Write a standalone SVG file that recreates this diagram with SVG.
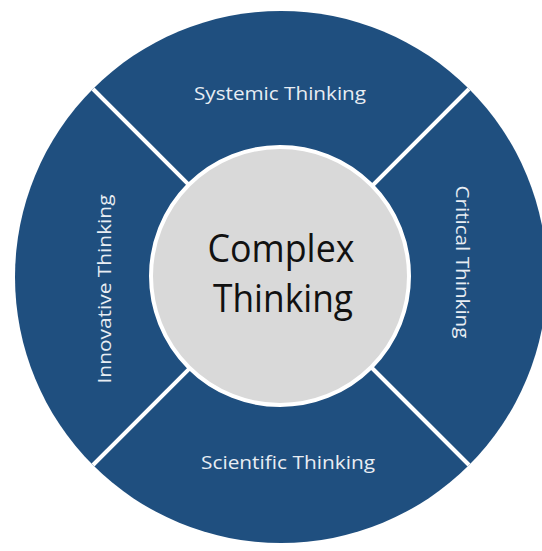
<svg xmlns="http://www.w3.org/2000/svg" width="542" height="551" viewBox="0 0 542 551">
<style>
.seg{font-family:"Open Sans","Liberation Sans",sans-serif;font-size:18.5px;fill:#e8edf3;text-anchor:middle}
.core{font-family:"Open Sans","Liberation Sans",sans-serif;font-size:39px;fill:#111;text-anchor:middle}
.sep{stroke:#ffffff;stroke-width:4}
</style>
<rect width="542" height="551" fill="#ffffff"/>
<g id="ring">
<circle cx="281" cy="277" r="266" fill="#1f4f7f"/>
</g>
<g id="connectors">
<line class="sep" x1="281" y1="277" x2="93" y2="89"/>
<line class="sep" x1="281" y1="277" x2="469" y2="89"/>
<line class="sep" x1="281" y1="277" x2="93" y2="465"/>
<line class="sep" x1="281" y1="277" x2="469" y2="465"/>
</g>
<g id="systemic"><text class="seg" x="280" y="100" textLength="172" lengthAdjust="spacingAndGlyphs">Systemic Thinking</text></g>
<g id="scientific"><text class="seg" x="288" y="469" textLength="174" lengthAdjust="spacingAndGlyphs">Scientific Thinking</text></g>
<g id="critical"><text class="seg" transform="translate(456,262) rotate(90)" x="0" y="0" textLength="153" lengthAdjust="spacingAndGlyphs">Critical Thinking</text></g>
<g id="innovative"><text class="seg" transform="translate(111,289) rotate(-90)" x="0" y="0" textLength="189" lengthAdjust="spacingAndGlyphs">Innovative Thinking</text></g>
<g id="complex">
<circle cx="280" cy="276" r="129" fill="#d9d9d9" stroke="#ffffff" stroke-width="4"/>
<text class="core" x="281" y="262" textLength="147" lengthAdjust="spacingAndGlyphs">Complex</text>
<text class="core" x="283" y="312" textLength="140" lengthAdjust="spacingAndGlyphs">Thinking</text>
</g>
</svg>
